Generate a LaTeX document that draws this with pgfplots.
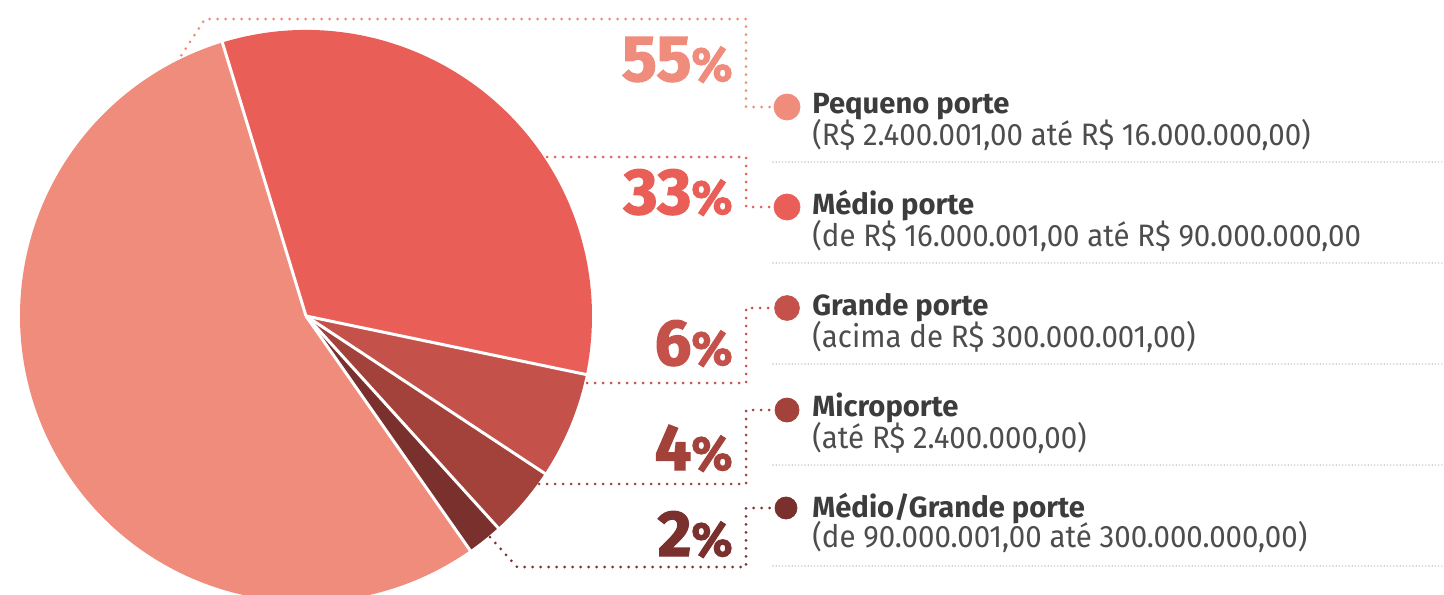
\documentclass[border=0pt]{standalone}
\usepackage{fontspec}
\usepackage{pgfplots}
\usepackage{pgfplotstable}
\pgfplotsset{compat=1.18}
\setmainfont{Fira Sans}
\newfontfamily\titlefont{Fira Sans}
\newfontfamily\subfont{Fira Sans}[FakeStretch=0.95]
\newfontfamily\pctfont{Fira Sans}[BoldFeatures={FakeBold=2}]

\definecolor{s0}{HTML}{E95E57} % medio 33
\definecolor{s1}{HTML}{C5524A} % grande 6
\definecolor{s2}{HTML}{A3423B} % micro 4
\definecolor{s3}{HTML}{7A302C} % medio/grande 2
\definecolor{s4}{HTML}{F08C7C} % pequeno 55
\definecolor{titlegray}{HTML}{3C3C3C}
\definecolor{subgray}{HTML}{4D4D4D}
\definecolor{sepgray}{HTML}{C4C4C4}

% shares, clockwise from the top boundary
\pgfplotstableread{
share
33
6
4
2
55
}\piedata

\newcommand\pct[1]{{\pctfont\bfseries\fontsize{32.5}{32}\selectfont #1\fontsize{24}{24}\selectfont\%}}

\tikzset{
  lead/.style={line width=1.5pt, dash pattern=on 0pt off 4pt, line cap=round},
  sep/.style={sepgray, line width=0.8pt, dash pattern=on 0pt off 1.6pt, line cap=round},
  ttl/.style={anchor=base west, inner sep=0pt, text=titlegray, font=\titlefont\bfseries\fontsize{14.6}{15}\selectfont},
  sub/.style={anchor=base west, inner sep=0pt, text=subgray, font=\subfont\fontsize{15.5}{16}\selectfont},
  pc/.style={anchor=base east, inner sep=0pt},
}

\begin{document}
\begin{tikzpicture}
\xdef\cumang{107}
\foreach \i in {0,...,4}{
  \pgfplotstablegetelem{\i}{share}\of\piedata
  \pgfmathsetmacro\nextang{\cumang-3.6*\pgfplotsretval}
  \expandafter\xdef\csname angS\i\endcsname{\cumang}
  \expandafter\xdef\csname angE\i\endcsname{\nextang}
  \xdef\cumang{\nextang}
}
\begin{axis}[
  x=0.5pt, y=0.5pt,
  xmin=0, xmax=1444, ymin=0, ymax=594,
  y dir=reverse,
  hide axis,
  clip=true,
]
% pie
\pgfplotsinvokeforeach{0,...,4}{
  \fill[s#1] (axis cs:306,316) -- ++(\csname angS#1\endcsname:143pt)
    arc[start angle=\csname angS#1\endcsname, end angle=\csname angE#1\endcsname, radius=143pt] -- cycle;
}
\pgfplotsinvokeforeach{0,...,4}{
  \draw[white, line width=1.5pt] (axis cs:306,316) -- ++(\csname angS#1\endcsname:144pt);
}

% leader lines
\addplot[s4, lead] coordinates {(177,62) (205,19) (746,19) (746,107) (775,107)};
\addplot[s0, lead] coordinates {(547,157) (746,157) (746,207) (775,207)};
\addplot[s1, lead] coordinates {(587,383) (746,383) (746,308) (775,308)};
\addplot[s2, lead] coordinates {(539,484) (746,484) (746,410) (775,410)};
\addplot[s3, lead] coordinates {(490,537) (517,567) (746,567) (746,508) (775,508)};

% separators
\addplot[sep] coordinates {(773,162) (1444,162)};
\addplot[sep] coordinates {(773,263) (1444,263)};
\addplot[sep] coordinates {(773,364) (1444,364)};
\addplot[sep] coordinates {(773,465) (1444,465)};
\addplot[sep] coordinates {(773,566) (1444,566)};

% legend dots
\addplot[only marks, mark=*, mark size=6.5pt, s4] coordinates {(787,107)};
\addplot[only marks, mark=*, mark size=6.5pt, s0] coordinates {(787,207)};
\addplot[only marks, mark=*, mark size=6.2pt, s1] coordinates {(787,308)};
\addplot[only marks, mark=*, mark size=6pt, s2] coordinates {(787,410)};
\addplot[only marks, mark=*, mark size=5.5pt, s3] coordinates {(786,508)};

% percentages
\node[pc, text=s4] at (axis cs:733,81) {\pct{55}};
\node[pc, text=s0] at (axis cs:733,214) {\pct{33}};
\node[pc, text=s1] at (axis cs:733,365) {\pct{6}};
\node[pc, text=s2] at (axis cs:733,470) {\pct{4}};
\node[pc, text=s3] at (axis cs:733,556) {\pct{2}};

% legend texts
\node[ttl] at (axis cs:812,113) {Pequeno porte};
\node[sub] at (axis cs:812,145) {(R\$ 2.400.001,00 até R\$ 16.000.000,00)};
\node[ttl] at (axis cs:812,214) {Médio porte};
\node[sub] at (axis cs:812,246) {(de R\$ 16.000.001,00 até R\$ 90.000.000,00};
\node[ttl] at (axis cs:812,315) {Grande porte};
\node[sub] at (axis cs:812,347) {(acima de R\$ 300.000.001,00)};
\node[ttl] at (axis cs:812,416) {Microporte};
\node[sub] at (axis cs:812,448) {(até R\$ 2.400.000,00)};
\node[ttl] at (axis cs:812,517) {Médio/Grande porte};
\node[sub] at (axis cs:812,547) {(de 90.000.001,00 até 300.000.000,00)};
\end{axis}
\pgfresetboundingbox
\useasboundingbox (current axis.south west) rectangle (current axis.north east);
\end{tikzpicture}
\end{document}
